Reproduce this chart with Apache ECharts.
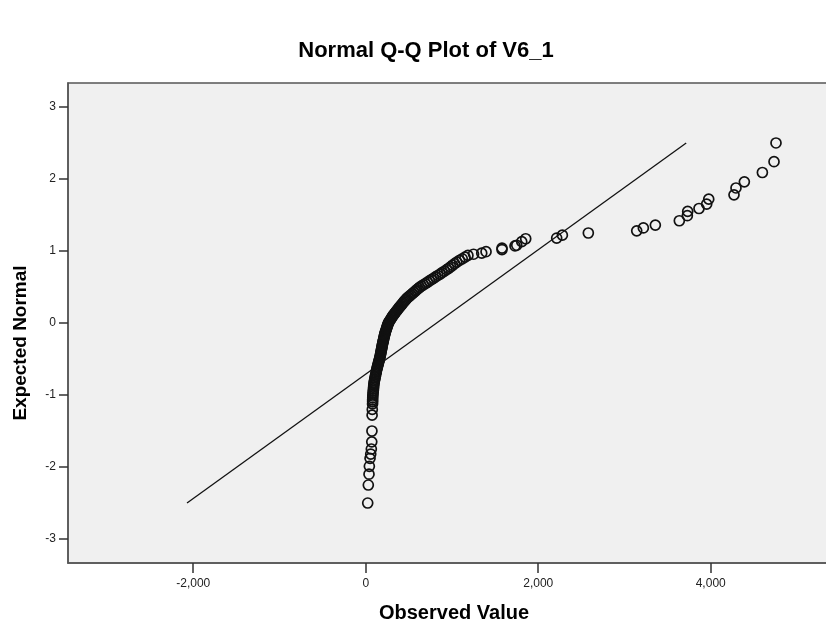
<!DOCTYPE html>
<html>
<head>
<meta charset="utf-8">
<script src="https://cdn.jsdelivr.net/npm/echarts@6/dist/echarts.min.js"></script>
<style>
html,body{margin:0;padding:0;background:#fff;overflow:hidden;}
#chart{width:826px;height:625px;}
</style>
</head>
<body>
<div id="chart"></div>
<script>
const observedValues = [
  23, 30, 38, 42, 50, 58, 65, 70, 72, 74, 76,
  79, 80, 80, 81, 82, 84, 86, 88, 90, 91, 93, 95, 98, 101, 105, 108, 112, 115, 119, 122, 125,
  129, 133, 137, 141, 145, 149, 153, 157, 161, 164, 168, 171, 173, 176, 179, 182, 184, 187, 190, 192, 195,
  198, 201, 204, 207, 210, 213, 216, 219, 222, 226, 230, 235, 239, 243, 247, 251, 256, 260,
  266, 274, 283, 291, 299, 307, 315, 325, 335, 345, 355, 366, 376, 386, 397, 408, 419, 430, 441, 453, 465,
  476, 492, 508, 524, 541, 557, 574, 590, 608, 624, 645, 668, 692, 715, 738, 762, 785, 810, 836, 862, 886, 912,
  939, 961, 984, 1007, 1031, 1056, 1087, 1119, 1151, 1185, 1250,
  1345, 1395, 1580, 1580, 1731, 1751, 1809, 1855, 2214, 2280, 2581, 3142, 3219, 3358, 3636, 3729, 3733, 3864,
  3953, 3977, 4270, 4293, 4390, 4599, 4734, 4757
];
const expectedNormal = [
  -2.50, -2.25, -2.10, -1.99, -1.88, -1.82, -1.75, -1.65, -1.50, -1.28, -1.20,
  -1.124, -1.095, -1.068, -1.041, -1.014, -0.988, -0.963, -0.939, -0.915, -0.892, -0.869, -0.846, -0.824, -0.802, -0.781, -0.760, -0.740, -0.719, -0.699, -0.680, -0.660,
  -0.640, -0.621, -0.603, -0.584, -0.566, -0.548, -0.530, -0.512, -0.494, -0.477, -0.459, -0.442, -0.425, -0.408, -0.391, -0.374, -0.358, -0.341, -0.325, -0.309, -0.292,
  -0.276, -0.260, -0.244, -0.228, -0.212, -0.196, -0.180, -0.164, -0.148, -0.133, -0.117, -0.101, -0.086, -0.070, -0.055, -0.039, -0.023, -0.008,
  0.008, 0.023, 0.039, 0.055, 0.070, 0.086, 0.101, 0.117, 0.133, 0.148, 0.164, 0.180, 0.196, 0.212, 0.228, 0.244, 0.260, 0.276, 0.292, 0.309, 0.325,
  0.341, 0.358, 0.374, 0.391, 0.408, 0.425, 0.442, 0.459, 0.477, 0.494, 0.512, 0.530, 0.548, 0.566, 0.584, 0.603, 0.621, 0.640, 0.660, 0.680, 0.699, 0.719,
  0.740, 0.760, 0.781, 0.802, 0.824, 0.846, 0.869, 0.892, 0.915, 0.939, 0.955,
  0.97, 0.99, 1.02, 1.04, 1.07, 1.08, 1.13, 1.17, 1.18, 1.22, 1.25, 1.28, 1.32, 1.36, 1.42, 1.49, 1.55, 1.59,
  1.65, 1.72, 1.78, 1.875, 1.96, 2.09, 2.24, 2.50
];
// Reference line end points
const lineObserved = [-2072, 3716];
const lineExpected = [-2.5, 2.5];
// Tick labels
const xTickValues = [-2000, 0, 2000, 4000];
const yTickValues = [-3, -2, -1, 0, 1, 2, 3];

const titleText = 'Normal Q-Q Plot of V6_1';
const xName = 'Observed Value';
const yName = 'Expected Normal';

const points = observedValues.map((v, i) => [v, expectedNormal[i]]);
const linePts = lineObserved.map((v, i) => [v, lineExpected[i]]);

const FONT = '"Liberation Sans", Arial, sans-serif';
const chart = echarts.init(document.getElementById('chart'), null, {renderer: 'canvas'});
chart.setOption({
  animation: false,
  backgroundColor: '#ffffff',
  title: {
    text: titleText,
    left: 421,
    top: 35,
    textAlign: 'center',
    textStyle: {fontFamily: FONT, fontSize: 22, fontWeight: 'bold', color: '#000'}
  },
  grid: {
    left: 68, top: 83, width: 772, height: 480,
    outerBoundsMode: 'none',
    containLabel: false,
    show: true,
    backgroundColor: '#f0f0f0',
    borderColor: '#555',
    borderWidth: 1.5
  },
  xAxis: {
    type: 'value',
    min: -3452, max: 5499,
    name: xName,
    nameLocation: 'middle',
    nameGap: 40,
    nameTextStyle: {fontFamily: FONT, fontSize: 20, fontWeight: 'bold', color: '#000', padding: [0, 0, 0, 0]},
    splitLine: {show: false},
    axisLine: {show: true, onZero: false, lineStyle: {color: '#555', width: 1.5}},
    axisTick: {show: true, length: 10, customValues: xTickValues, lineStyle: {color: '#333', width: 1.5}},
    axisLabel: {
      customValues: xTickValues, margin: 15,
      fontFamily: FONT, fontSize: 12, color: '#222',
      formatter: v => v.toLocaleString('en-US')
    }
  },
  yAxis: {
    type: 'value',
    min: -3.333, max: 3.333,
    name: yName,
    nameLocation: 'middle',
    nameRotate: 90,
    nameGap: 38,
    nameTextStyle: {fontFamily: FONT, fontSize: 19, fontWeight: 'bold', color: '#000', padding: [0, 40, 0, 0]},
    splitLine: {show: false},
    axisLine: {show: true, onZero: false, lineStyle: {color: '#555', width: 1.5}},
    axisTick: {show: true, length: 9, customValues: yTickValues, lineStyle: {color: '#333', width: 1.5}},
    axisLabel: {
      customValues: yTickValues, margin: 12,
      fontFamily: FONT, fontSize: 12, color: '#222'
    }
  },
  series: [
    {
      type: 'line',
      data: linePts,
      symbol: 'none',
      lineStyle: {color: '#111', width: 1.3},
      z: 2
    },
    {
      type: 'scatter',
      data: points,
      symbol: 'circle',
      symbolSize: 10,
      itemStyle: {color: 'rgba(0,0,0,0)', borderColor: '#111', borderWidth: 1.7, opacity: 1},
      z: 3
    }
  ]
});
</script>
</body>
</html>
